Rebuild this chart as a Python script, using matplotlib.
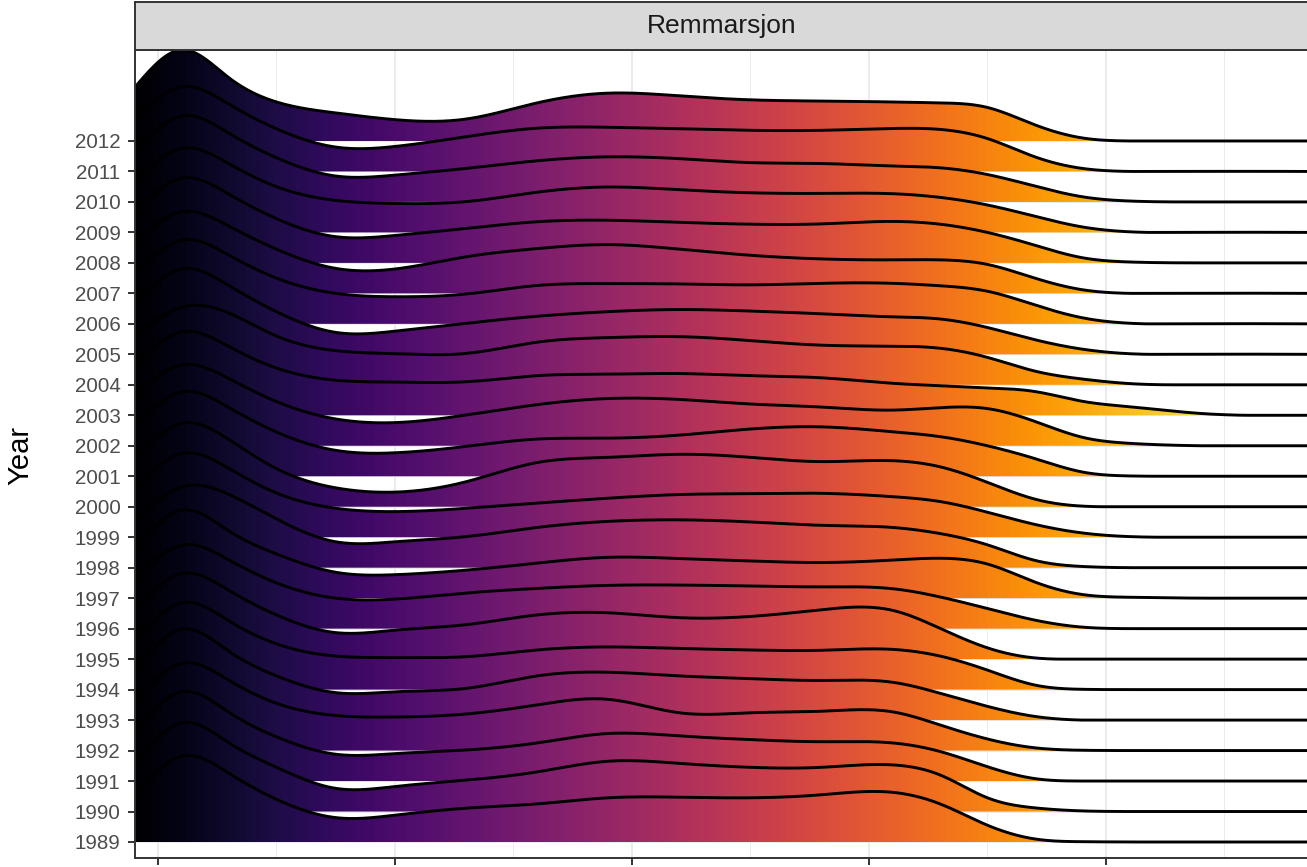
import matplotlib
matplotlib.use("Agg")
import matplotlib.pyplot as plt
from matplotlib.patches import Polygon
import numpy as np

plt.rcParams['font.family'] = ['Liberation Sans', 'DejaVu Sans']

knots_x = [-0.97, 1, 3, 5, 7.5, 10, 13, 16, 19, 22, 25, 28, 31, 33, 35, 37, 39, 41, 44, 48.57]

years = list(range(1989, 2013))

# ridge heights in units of one row, one row per year (1989 first)
ridge_heights = [
    [1.50, 2.82, 2.25, 1.40, 0.80, 0.88, 1.11, 1.25, 1.45, 1.47, 1.45, 1.55, 1.63, 1.25, 0.55, 0.10, 0.01, 0, 0, 0],  # 1989
    [1.59, 2.91, 2.25, 1.45, 0.76, 0.82, 1.03, 1.30, 1.65, 1.58, 1.45, 1.45, 1.53, 1.20, 0.45, 0.12, 0.02, 0, 0, 0],  # 1990
    [1.60, 2.93, 2.25, 1.45, 0.88, 0.90, 1.02, 1.25, 1.56, 1.48, 1.36, 1.29, 1.25, 0.97, 0.47, 0.08, 0, 0, 0, 0],     # 1991
    [1.60, 2.86, 2.30, 1.55, 1.15, 1.10, 1.20, 1.50, 1.68, 1.24, 1.24, 1.29, 1.27, 0.84, 0.38, 0.09, 0.01, 0, 0, 0],  # 1992
    [1.60, 2.98, 2.25, 1.45, 0.90, 0.93, 1.04, 1.45, 1.57, 1.45, 1.36, 1.30, 1.24, 0.88, 0.45, 0.12, 0, 0, 0, 0],     # 1993
    [1.60, 2.85, 2.25, 1.50, 1.10, 1.05, 1.08, 1.30, 1.40, 1.35, 1.30, 1.29, 1.32, 1.10, 0.64, 0.15, 0.01, 0, 0, 0],  # 1994
    [1.60, 2.81, 2.25, 1.45, 0.87, 0.95, 1.13, 1.45, 1.52, 1.36, 1.40, 1.62, 1.60, 1.01, 0.37, 0.04, 0, 0, 0, 0],     # 1995
    [1.60, 2.74, 2.25, 1.50, 1.00, 0.97, 1.17, 1.32, 1.42, 1.43, 1.40, 1.37, 1.31, 1.04, 0.66, 0.28, 0.05, 0, 0, 0],  # 1996
    [1.60, 2.89, 2.20, 1.45, 0.85, 0.77, 0.92, 1.15, 1.34, 1.30, 1.22, 1.17, 1.25, 1.31, 1.12, 0.53, 0.12, 0.03, 0, 0],  # 1997
    [1.55, 2.65, 2.40, 1.60, 0.85, 0.85, 1.02, 1.32, 1.52, 1.57, 1.50, 1.39, 1.32, 1.12, 0.75, 0.24, 0.04, 0, 0, 0],  # 1998
    [1.60, 2.75, 2.25, 1.45, 0.95, 0.84, 0.95, 1.12, 1.28, 1.40, 1.43, 1.44, 1.33, 1.17, 0.82, 0.42, 0.14, 0.02, 0, 0],  # 1999
    [1.60, 2.74, 2.20, 1.25, 0.62, 0.48, 0.82, 1.45, 1.62, 1.72, 1.62, 1.48, 1.51, 1.31, 0.80, 0.25, 0.02, 0, 0, 0],  # 2000
    [1.65, 2.77, 2.25, 1.45, 0.85, 0.77, 0.98, 1.22, 1.25, 1.35, 1.55, 1.62, 1.46, 1.30, 1.00, 0.58, 0.14, 0.01, 0, 0],  # 2001
    [1.65, 2.65, 2.20, 1.45, 0.88, 0.76, 1.01, 1.35, 1.55, 1.52, 1.37, 1.27, 1.17, 1.25, 1.22, 0.80, 0.28, 0.08, 0, 0],  # 2002
    [1.65, 2.74, 2.25, 1.55, 1.15, 1.09, 1.10, 1.30, 1.35, 1.37, 1.30, 1.23, 1.05, 0.97, 0.90, 0.78, 0.46, 0.28, 0.06, 0],  # 2003
    [1.60, 2.55, 2.35, 1.60, 1.12, 1.02, 1.03, 1.40, 1.55, 1.58, 1.45, 1.30, 1.27, 1.20, 0.90, 0.45, 0.19, 0.04, 0, 0],  # 2004
    [1.65, 2.80, 2.25, 1.40, 0.72, 0.76, 1.02, 1.25, 1.40, 1.47, 1.42, 1.33, 1.23, 1.16, 0.88, 0.48, 0.17, 0.02, 0, 0],  # 2005
    [1.65, 2.75, 2.25, 1.50, 1.00, 0.89, 0.98, 1.26, 1.32, 1.31, 1.28, 1.33, 1.33, 1.25, 1.07, 0.62, 0.20, 0.02, 0, 0],  # 2006
    [1.65, 2.68, 2.20, 1.45, 0.82, 0.80, 1.20, 1.47, 1.60, 1.45, 1.25, 1.13, 1.10, 1.10, 0.95, 0.50, 0.12, 0, 0, 0],  # 2007
    [1.65, 2.78, 2.25, 1.45, 0.86, 0.90, 1.13, 1.35, 1.40, 1.33, 1.27, 1.28, 1.36, 1.27, 1.00, 0.58, 0.17, 0.03, 0, 0],  # 2008
    [1.65, 2.76, 2.25, 1.50, 1.05, 0.95, 1.01, 1.32, 1.49, 1.40, 1.30, 1.28, 1.27, 1.15, 0.90, 0.53, 0.18, 0.02, 0, 0],  # 2009
    [1.65, 2.82, 2.25, 1.45, 0.85, 0.88, 1.10, 1.35, 1.48, 1.42, 1.29, 1.26, 1.18, 1.12, 0.90, 0.52, 0.17, 0.03, 0, 0],  # 2010
    [1.70, 2.78, 2.20, 1.40, 0.80, 0.82, 1.14, 1.42, 1.45, 1.40, 1.35, 1.35, 1.41, 1.38, 1.08, 0.48, 0.10, 0, 0, 0],  # 2011
    [1.77, 2.99, 2.07, 1.28, 0.92, 0.70, 0.72, 1.25, 1.57, 1.48, 1.35, 1.31, 1.28, 1.25, 1.10, 0.53, 0.10, 0, 0, 0],  # 2012
]

facet_label = "Remmarsjon"
x_ticks = [0, 10, 20, 30, 40]
x_minor = [5, 15, 25, 35, 45]


def smooth(xs, ys, n=1200):
    # natural cubic spline through the read-off points, only for drawing
    xs = np.asarray(xs, float)
    ys = np.asarray(ys, float)
    k = len(xs)
    h = np.diff(xs)
    A = np.zeros((k, k))
    b = np.zeros(k)
    A[0, 0] = A[-1, -1] = 1
    for i in range(1, k - 1):
        A[i, i - 1] = h[i - 1]
        A[i, i] = 2 * (h[i - 1] + h[i])
        A[i, i + 1] = h[i]
        b[i] = 6 * ((ys[i + 1] - ys[i]) / h[i] - (ys[i] - ys[i - 1]) / h[i - 1])
    M = np.linalg.solve(A, b)
    xx = np.linspace(xs[0], xs[-1], n)
    j = np.clip(np.searchsorted(xs, xx) - 1, 0, k - 2)
    a = xs[j + 1] - xx
    c = xx - xs[j]
    hj = h[j]
    yy = (M[j] * a ** 3 + M[j + 1] * c ** 3) / (6 * hj) \
        + (ys[j] / hj - M[j] * hj / 6) * a + (ys[j + 1] / hj - M[j + 1] * hj / 6) * c
    return xx, np.clip(yy, 0, None)


W, H = 1307, 867
fig = plt.figure(figsize=(W / 100, H / 100), dpi=100)
ax = fig.add_axes([135 / W, 9 / H, 1174 / W, 808 / H])

x_lo, x_hi = knots_x[0], knots_x[-1]
y_lo, y_hi = -0.525, 25.985
grad = np.linspace(0, 1, 800)[None, :]

# top ridge first, lower ridges drawn over it
n = len(years)
for i in range(n - 1, -1, -1):
    xs, hs = smooth(knots_x, ridge_heights[i])
    z = 2 + (n - i)
    verts = np.column_stack([np.r_[xs, xs[-1], xs[0]], np.r_[i + hs, i, i]])
    poly = Polygon(verts, closed=True, facecolor='none', edgecolor='none', transform=ax.transData)
    ax.add_patch(poly)
    im = ax.imshow(grad, cmap='inferno', extent=[x_lo, x_hi, -1, 27], aspect='auto',
                   origin='lower', interpolation='bilinear', zorder=z)
    im.set_clip_path(poly)
    ax.plot(xs, i + hs, color='black', lw=2.1, zorder=z + 0.5, solid_capstyle='butt')

ax.set_xlim(x_lo, x_hi)
ax.set_ylim(y_lo, y_hi)

ax.set_xticks(x_ticks)
ax.set_xticks(x_minor, minor=True)
ax.set_xticklabels([])
ax.set_yticks(range(n))
ax.set_yticklabels([str(y) for y in years])
ax.grid(which='major', axis='both', color='#EBEBEB', lw=1.4, zorder=0)
ax.grid(which='minor', axis='x', color='#EBEBEB', lw=0.7, zorder=0)
ax.set_axisbelow(True)
ax.tick_params(which='major', direction='out', length=5, width=1.4, color='#333333',
               labelcolor='#4D4D4D', labelsize=14.8, pad=5.5)
ax.tick_params(which='minor', length=0)
for s in ax.spines.values():
    s.set_color('#333333')
    s.set_linewidth(1.4)
    s.set_zorder(100)

# facet strip
sax = fig.add_axes([135 / W, (H - 50) / H, 1174 / W, 48 / H])
sax.set_facecolor('#D9D9D9')
sax.set_xticks([])
sax.set_yticks([])
for s in sax.spines.values():
    s.set_color('#333333')
    s.set_linewidth(1.4)
sax.text(0.5, 0.5, facet_label, ha='center', va='center', fontsize=19, color='#1A1A1A',
         transform=sax.transAxes)

fig.text(20.5 / W, 1 - 455 / H, "Year", rotation=90, ha='center', va='center', fontsize=21, color='black')

fig.savefig("out.png", dpi=100)
